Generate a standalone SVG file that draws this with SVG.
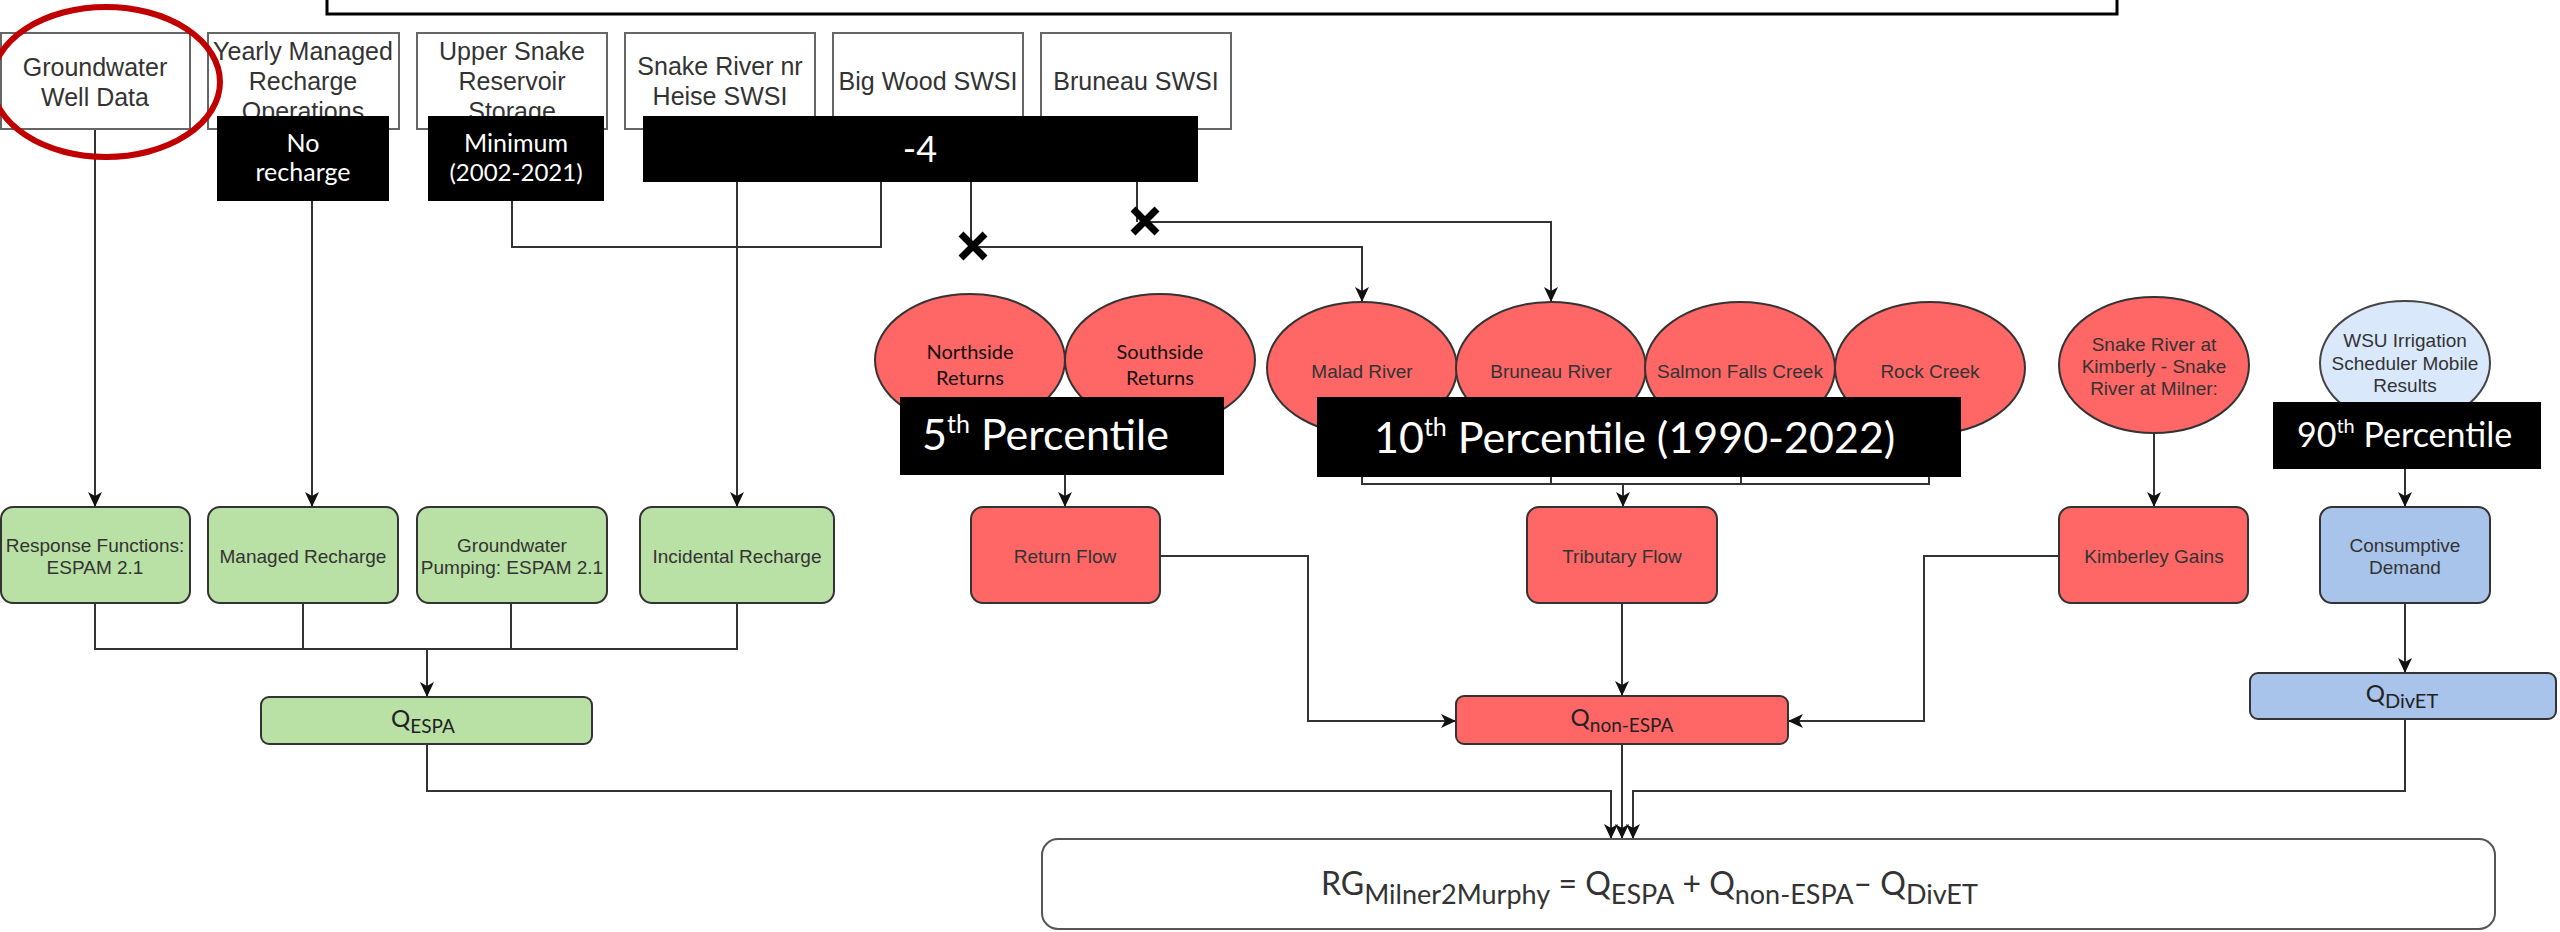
<svg xmlns="http://www.w3.org/2000/svg" width="2560" height="932" viewBox="0 0 2560 932">
<defs>
<marker id="arr" markerUnits="userSpaceOnUse" markerWidth="16" markerHeight="14" refX="15" refY="7" orient="auto">
<path d="M0,0 L15,7 L0,14 L4,7 z" fill="#111"/>
</marker>
<style>
.src{fill:#fff;stroke:#666;stroke-width:2}
.lbl{font-family:"Liberation Sans",Arial,sans-serif;fill:#333;text-anchor:middle}
.big{font-size:25px}
.sm{font-size:19px}
.grn{fill:#B9E0A5;stroke:#333;stroke-width:2}
.red{fill:#FF6666;stroke:#333;stroke-width:2}
.blu{fill:#A9C4EB;stroke:#333;stroke-width:2}
.lbl2{fill:#DAE8FC;stroke:#444;stroke-width:2}
.cal{font-family:Lato,"Noto Sans",sans-serif}
.blk{fill:#000}
.wt{font-family:Lato,"Noto Sans",sans-serif;fill:#fff}
.ln{fill:none;stroke:#333;stroke-width:2}
.ar{fill:none;stroke:#333;stroke-width:2;marker-end:url(#arr)}
.x{stroke:#000;stroke-width:7;stroke-linecap:butt}
</style>
</defs>
<rect width="2560" height="932" fill="#fff"/>

<!-- top framing box -->
<rect id="topbox" x="327" y="-20" width="1790" height="34" fill="#fff" stroke="#000" stroke-width="3"/>

<g id="connectors">
<path class="ar" d="M95,129 V507"/>
<path class="ar" d="M312,201 V507"/>
<path class="ln" d="M512,201 V247 H881 V182"/>
<path class="ar" d="M737,182 V507"/>
<path class="ln" d="M971,182 V247"/>
<path class="ar" d="M973,247 H1362 V302"/>
<path class="ln" d="M1137,182 V222"/>
<path class="ar" d="M1145,222 H1551 V302"/>
<path class="ar" d="M1065,475 V507"/>
<path class="ln" d="M1362,470 V484 H1929 V470 M1551,470 V484 M1741,470 V484"/>
<path class="ar" d="M1623,484 V507"/>
<path class="ar" d="M2154,433 V507"/>
<path class="ar" d="M2405,469 V507"/>
<path class="ln" d="M95,603 V649 H737 V603 M303,603 V649 M511,603 V649"/>
<path class="ar" d="M427,649 V697"/>
<path class="ar" d="M1160,556 H1308 V721 H1456"/>
<path class="ar" d="M1622,603 V696"/>
<path class="ar" d="M2059,556 H1924 V721 H1788"/>
<path class="ar" d="M2405,603 V673"/>
<path class="ar" d="M427,744 V791 H1611 V839"/>
<path class="ar" d="M1622,744 V839"/>
<path class="ar" d="M2405,719 V791 H1633 V839"/>
</g>

<g id="xmarks">
<path class="x" d="M961,234 L985,258 M985,234 L961,258"/>
<path class="x" d="M1133,209 L1157,233 M1157,209 L1133,233"/>
</g>

<!-- top source boxes -->
<g id="n-groundwater">
<rect class="src" x="1" y="33" width="189" height="96"/>
<text class="lbl big" x="95" y="76">Groundwater</text>
<text class="lbl big" x="95" y="106">Well Data</text>
</g>
<g id="n-yearly">
<rect class="src" x="208" y="33" width="191" height="96"/>
<text class="lbl big" x="303" y="60">Yearly Managed</text>
<text class="lbl big" x="303" y="90">Recharge</text>
<text class="lbl big" x="303" y="120">Operations</text>
</g>
<g id="n-upper">
<rect class="src" x="417" y="33" width="190" height="96"/>
<text class="lbl big" x="512" y="60">Upper Snake</text>
<text class="lbl big" x="512" y="90">Reservoir</text>
<text class="lbl big" x="512" y="120">Storage</text>
</g>
<g id="n-heise">
<rect class="src" x="625" y="33" width="190" height="96"/>
<text class="lbl big" x="720" y="75">Snake River nr</text>
<text class="lbl big" x="720" y="105">Heise SWSI</text>
</g>
<g id="n-bigwood">
<rect class="src" x="833" y="33" width="190" height="96"/>
<text class="lbl big" x="928" y="90">Big Wood SWSI</text>
</g>
<g id="n-bruneau">
<rect class="src" x="1041" y="33" width="190" height="96"/>
<text class="lbl big" x="1136" y="90">Bruneau SWSI</text>
</g>

<!-- red highlight circle -->
<ellipse id="highlight" cx="106" cy="82" rx="114" ry="75" fill="none" stroke="#C00000" stroke-width="6"/>

<!-- ellipses -->
<g id="n-northside">
<ellipse class="red" cx="970" cy="360" rx="95" ry="66"/>
<text class="cal" x="970" y="359" font-size="20" text-anchor="middle" fill="#111">Northside</text>
<text class="cal" x="970" y="385" font-size="20" text-anchor="middle" fill="#111">Returns</text>
</g>
<g id="n-southside">
<ellipse class="red" cx="1160" cy="360" rx="95" ry="66"/>
<text class="cal" x="1160" y="359" font-size="20" text-anchor="middle" fill="#111">Southside</text>
<text class="cal" x="1160" y="385" font-size="20" text-anchor="middle" fill="#111">Returns</text>
</g>
<g id="n-malad">
<ellipse class="red" cx="1362" cy="368" rx="95" ry="66"/>
<text class="lbl sm" x="1362" y="378">Malad River</text>
</g>
<g id="n-bruneauriver">
<ellipse class="red" cx="1551" cy="368" rx="95" ry="66"/>
<text class="lbl sm" x="1551" y="378">Bruneau River</text>
</g>
<g id="n-salmon">
<ellipse class="red" cx="1740" cy="368" rx="95" ry="66"/>
<text class="lbl sm" x="1740" y="378">Salmon Falls Creek</text>
</g>
<g id="n-rock">
<ellipse class="red" cx="1930" cy="368" rx="95" ry="66"/>
<text class="lbl sm" x="1930" y="378">Rock Creek</text>
</g>
<g id="n-kimberly">
<ellipse class="red" cx="2154" cy="365" rx="95" ry="68"/>
<text class="lbl sm" x="2154" y="351">Snake River at</text>
<text class="lbl sm" x="2154" y="373">Kimberly - Snake</text>
<text class="lbl sm" x="2154" y="395">River at Milner:</text>
</g>
<g id="n-wsu">
<ellipse class="lbl2" cx="2405" cy="363" rx="85" ry="62"/>
<text class="lbl sm" x="2405" y="347">WSU Irrigation</text>
<text class="lbl sm" x="2405" y="370">Scheduler Mobile</text>
<text class="lbl sm" x="2405" y="392">Results</text>
</g>

<!-- middle boxes -->
<g id="n-response">
<rect class="grn" x="1" y="507" width="189" height="96" rx="12"/>
<text class="lbl sm" x="95" y="552">Response Functions:</text>
<text class="lbl sm" x="95" y="574">ESPAM 2.1</text>
</g>
<g id="n-managed">
<rect class="grn" x="208" y="507" width="190" height="96" rx="12"/>
<text class="lbl sm" x="303" y="563">Managed Recharge</text>
</g>
<g id="n-pumping">
<rect class="grn" x="417" y="507" width="190" height="96" rx="12"/>
<text class="lbl sm" x="512" y="552">Groundwater</text>
<text class="lbl sm" x="512" y="574">Pumping: ESPAM 2.1</text>
</g>
<g id="n-incidental">
<rect class="grn" x="640" y="507" width="194" height="96" rx="12"/>
<text class="lbl sm" x="737" y="563">Incidental Recharge</text>
</g>
<g id="n-return">
<rect class="red" x="971" y="507" width="189" height="96" rx="12"/>
<text class="lbl sm" x="1065" y="563">Return Flow</text>
</g>
<g id="n-tributary">
<rect class="red" x="1527" y="507" width="190" height="96" rx="12"/>
<text class="lbl sm" x="1622" y="563">Tributary Flow</text>
</g>
<g id="n-kgains">
<rect class="red" x="2059" y="507" width="189" height="96" rx="12"/>
<text class="lbl sm" x="2154" y="563">Kimberley Gains</text>
</g>
<g id="n-consumptive">
<rect class="blu" x="2320" y="507" width="170" height="96" rx="12"/>
<text class="lbl sm" x="2405" y="552">Consumptive</text>
<text class="lbl sm" x="2405" y="574">Demand</text>
</g>

<!-- Q boxes -->
<g id="n-qespa">
<rect class="grn" x="261" y="697" width="331" height="47" rx="8"/>
<text class="cal" x="423" y="727" font-size="24" text-anchor="middle" fill="#222">Q<tspan font-size="19" dy="6">ESPA</tspan></text>
</g>
<g id="n-qnonespa">
<rect class="red" x="1456" y="696" width="332" height="48" rx="8"/>
<text class="cal" x="1622" y="726" font-size="24" text-anchor="middle" fill="#222">Q<tspan font-size="19" dy="6">non-ESPA</tspan></text>
</g>
<g id="n-qdivet">
<rect class="blu" x="2250" y="673" width="306" height="46" rx="8"/>
<text class="cal" x="2402" y="702" font-size="24" text-anchor="middle" fill="#222">Q<tspan font-size="20" dy="6">DivET</tspan></text>
</g>

<!-- final equation box -->
<g id="n-final">
<rect x="1042" y="839" width="1453" height="90" rx="16" fill="#fff" stroke="#555" stroke-width="2"/>
<text class="cal" x="1321" y="895" font-size="32" fill="#333">RG<tspan font-size="27" dy="9">Milner2Murphy</tspan><tspan dy="-9"> = Q</tspan><tspan font-size="27" dy="9">ESPA</tspan><tspan dy="-9"> + Q</tspan><tspan font-size="27" dy="9">non-ESPA</tspan><tspan dy="-9">– Q</tspan><tspan font-size="27" dy="9">DivET</tspan></text>
</g>

<!-- black overlay annotations -->
<g id="a-norecharge">
<rect class="blk" x="217" y="116" width="172" height="85"/>
<text class="wt" x="303" y="152" font-size="25" text-anchor="middle">No</text>
<text class="wt" x="303" y="181" font-size="25" text-anchor="middle">recharge</text>
</g>
<g id="a-minimum">
<rect class="blk" x="428" y="116" width="176" height="85"/>
<text class="wt" x="516" y="152" font-size="25" text-anchor="middle">Minimum</text>
<text class="wt" x="516" y="181" font-size="24" text-anchor="middle">(2002-2021)</text>
</g>
<g id="a-minus4">
<rect class="blk" x="643" y="116" width="555" height="66"/>
<text class="wt" x="920" y="162" font-size="36" text-anchor="middle">-4</text>
</g>
<g id="a-p5">
<rect class="blk" x="900" y="397" width="324" height="78"/>
<text class="wt" x="922" y="450" font-size="43">5<tspan font-size="25" dy="-17">th</tspan><tspan dy="17"> Percentile</tspan></text>
</g>
<g id="a-p10">
<rect class="blk" x="1317" y="397" width="644" height="80"/>
<text class="wt" x="1374" y="453" font-size="43">10<tspan font-size="25" dy="-17">th</tspan><tspan dy="17"> Percentile (1990-2022)</tspan></text>
</g>
<g id="a-p90">
<rect class="blk" x="2273" y="402" width="268" height="67"/>
<text class="wt" x="2297" y="447" font-size="34">90<tspan font-size="20" dy="-14">th</tspan><tspan dy="14"> Percentile</tspan></text>
</g>
</svg>
